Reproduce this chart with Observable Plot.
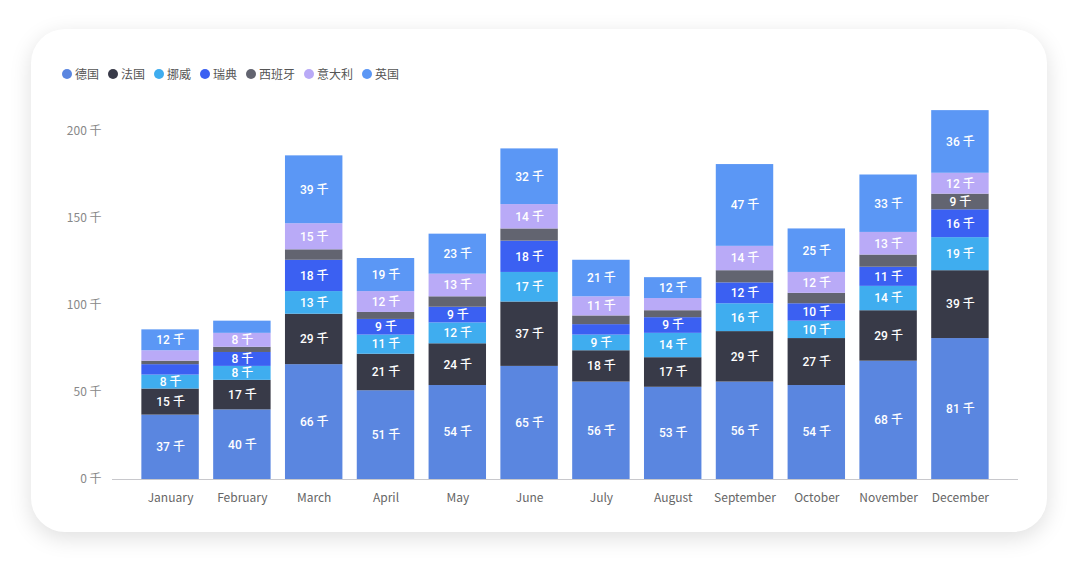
<!DOCTYPE html>
<html>
<head>
<meta charset="utf-8">
<script src="https://cdn.jsdelivr.net/npm/d3@7"></script>
<script src="https://cdn.jsdelivr.net/npm/@observablehq/plot@0.6"></script>
<style>
  html, body { margin: 0; padding: 0; background: #ffffff; width: 1080px; height: 573px; overflow: hidden; font-family: "Noto Sans CJK SC", "Noto Sans", sans-serif; }
  #card { position: absolute; left: 31px; top: 29px; width: 1016px; height: 503px; border-radius: 34px; background: #fff; box-shadow: 0 6px 22px rgba(0,0,0,0.13); }
  #legend { position: absolute; left: 62px; top: 65px; display: flex; gap: 9px; font-size: 12px; color: #555; }
  #legend .item { display: flex; align-items: center; gap: 3px; }
  #legend .dot { width: 10px; height: 10px; border-radius: 50%; display: inline-block; }
  #chart { position: absolute; left: 0; top: 100px; }
  #chart svg { overflow: visible; }
</style>
</head>
<body>
<div id="card"></div>
<div id="legend"></div>
<div id="chart"></div>
<script>
const months = ["January","February","March","April","May","June","July","August","September","October","November","December"];
const seriesNames = ["德国","法国","挪威","瑞典","西班牙","意大利","英国"];
const seriesColors = ["#5A86E0","#383A48","#3FADEF","#3B60F2","#626470","#B9AAF7","#5B97F5"];
const germany = [37,40,66,51,54,65,56,53,56,54,68,81];
const france  = [15,17,29,21,24,37,18,17,29,27,29,39];
const norway  = [8,8,13,11,12,17,9,14,16,10,14,19];
const sweden  = [6,8,18,9,9,18,6,9,12,10,11,16];
const spain   = [2,3,6,4,6,7,5,4,7,6,7,9];
const italy   = [6,8,15,12,13,14,11,7,14,12,13,12];
const uk      = [12,7,39,19,23,32,21,12,47,25,33,36];
const yTicks = [0,50,100,150,200];

const seriesValues = [germany, france, norway, sweden, spain, italy, uk];
const data = [];
seriesNames.forEach((s, i) => months.forEach((m, j) => data.push({month: m, series: s, value: seriesValues[i][j]})));

// legend
const legend = document.getElementById("legend");
seriesNames.forEach((s, i) => {
  const it = document.createElement("div");
  it.className = "item";
  it.innerHTML = `<span class="dot" style="background:${seriesColors[i]}"></span><span>${s}</span>`;
  legend.appendChild(it);
});

const chart = Plot.plot({
  width: 1080,
  height: 420,
  marginLeft: 112,
  marginRight: 62,
  marginTop: 31,
  marginBottom: 41,
  style: {fontFamily: "'Noto Sans CJK SC', 'Noto Sans', sans-serif", fontSize: "12px", background: "transparent", overflow: "visible"},
  x: {domain: months, range: [127, 1003], padding: 0.2, round: false, label: null, tickSize: 0},
  y: {domain: [0, 200], label: null, ticks: yTicks, tickSize: 0, tickFormat: d => d + " 千"},
  color: {domain: seriesNames, range: seriesColors},
  marks: [
    Plot.gridY(yTicks.filter(d => d > 0), {stroke: "#e8e8ec", strokeOpacity: 1, x1: 112, x2: 1018}),
    Plot.barY(data, Plot.stackY({x: "month", y: "value", z: "series", fill: "series", inset: 0})),
    Plot.ruleY([0], {stroke: "#c8c8cc"}),
    Plot.text(data, Plot.stackY({x: "month", y: "value", z: "series",
      text: d => d.value >= 8 ? d.value + " 千" : "",
      fill: "white", fontSize: 12, fontWeight: 500, fontFamily: "Roboto, 'Noto Sans CJK SC', sans-serif"})),
    Plot.axisX({tickSize: 0, tickPadding: 14, fill: "#666", fontSize: 12, label: null}),
    Plot.axisY({ticks: yTicks, tickSize: 0, tickPadding: 11, fill: "#888", fontSize: 12, label: null, tickFormat: d => d + " 千"})
  ]
});
document.getElementById("chart").appendChild(chart);
</script>
</body>
</html>
